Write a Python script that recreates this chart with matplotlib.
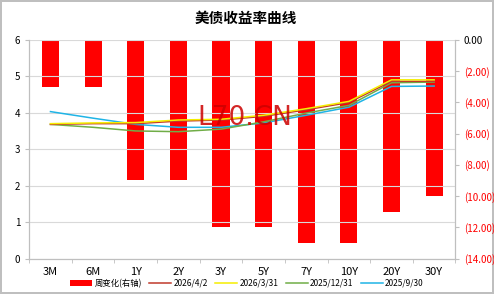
import matplotlib.pyplot as plt
import numpy as np

plt.rcParams['font.family'] = ['Noto Sans CJK SC', 'DejaVu Sans']
plt.rcParams['axes.unicode_minus'] = False

tenors = ['3M', '6M', '1Y', '2Y', '3Y', '5Y', '7Y', '10Y', '20Y', '30Y']
week_chg = [-3.0, -3.0, -9.0, -9.0, -12.0, -12.0, -13.0, -13.0, -11.0, -10.0]
y_0402 = [3.68, 3.70, 3.70, 3.77, 3.80, 3.90, 4.08, 4.28, 4.86, 4.86]
y_0331 = [3.70, 3.72, 3.73, 3.80, 3.82, 3.93, 4.11, 4.31, 4.90, 4.90]
y_1231 = [3.68, 3.60, 3.50, 3.48, 3.55, 3.75, 3.99, 4.20, 4.82, 4.84]
y_0930 = [4.03, 3.85, 3.68, 3.60, 3.60, 3.72, 3.93, 4.15, 4.72, 4.73]

x = np.arange(len(tenors))

fig = plt.figure(figsize=(4.94, 2.94), dpi=100)
fig.patch.set_edgecolor('#bfbfbf')
fig.patch.set_linewidth(1.5)
ax = fig.add_axes([0.059, 0.12, 0.863, 0.745])
ax2 = ax.twinx()

# bars on right axis, behind lines
ax2.bar(x, week_chg, width=0.4, color='#ff0000', label='周变化(右轴)', zorder=1)
ax2.set_ylim(-14, 0)
ax2.set_yticks(np.arange(-14, 1, 2))
ax2.set_yticklabels(['(%.2f)' % abs(v) if v < 0 else '%.2f' % v for v in np.arange(-14, 1, 2)])
for lbl, v in zip(ax2.get_yticklabels(), np.arange(-14, 1, 2)):
    lbl.set_color('#ff0000' if v < 0 else 'black')
ax2.tick_params(axis='y', labelsize=7, length=3, color='#bfbfbf', pad=3)

ax.set_zorder(ax2.get_zorder() + 1)
ax.patch.set_visible(False)
ax.plot(x, y_0930, color='#1fb4e6', lw=1.1, label='2025/9/30')
ax.plot(x, y_1231, color='#70ad47', lw=1.1, label='2025/12/31')
ax.plot(x, y_0402, color='#c0392b', lw=1.1, label='2026/4/2')
ax.plot(x, y_0331, color='#f5ee00', lw=1.1, label='2026/3/31')

ax.set_ylim(0, 6)
ax.set_xlim(-0.5, len(tenors) - 0.5)
ax.set_yticks(range(0, 7))
ax.set_xticks(x)
ax.set_xticklabels(tenors)
ax.tick_params(axis='y', labelsize=7, length=3, color='#bfbfbf')
ax.tick_params(axis='x', labelsize=8, length=0, pad=6)
ax.set_xticks(np.arange(-0.5, len(tenors)), minor=True)
ax.tick_params(axis='x', which='minor', length=3, color='#bfbfbf')
ax.grid(axis='y', color='#d9d9d9', lw=0.8)
for a in (ax, ax2):
    for s in a.spines.values():
        s.set_color('#bfbfbf')
    a.spines['top'].set_visible(False)

ax.text(4.55, 3.85, 'L70.CN', color='#cc0000', fontsize=19, ha='center', va='center',
        alpha=0.85, family='DejaVu Sans')

fig.suptitle('美债收益率曲线', x=0.497, y=0.968, fontsize=10.5, fontweight='bold')

h2, l2 = ax2.get_legend_handles_labels()
h1, l1 = ax.get_legend_handles_labels()
order = [2, 3, 1, 0]
fig.legend(h2 + [h1[i] for i in order], l2 + [l1[i] for i in order],
           loc='lower center', bbox_to_anchor=(0.5, -0.005), ncol=5, frameon=False,
           fontsize=6, handlelength=2.6, columnspacing=0.9, handletextpad=0.3)

fig.savefig('out.png', dpi=100)
